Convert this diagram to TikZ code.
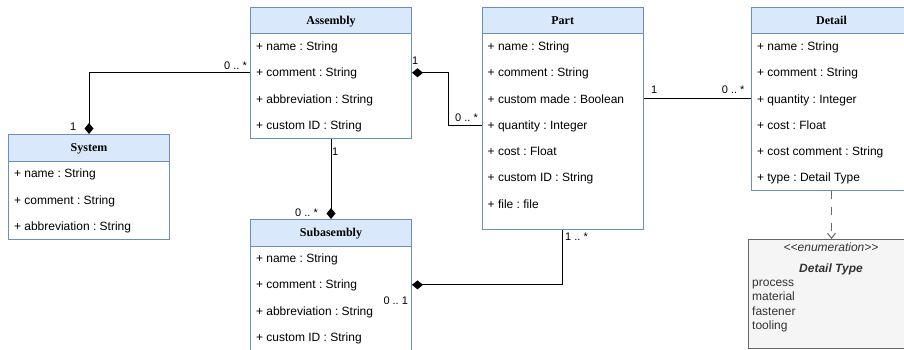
\documentclass[tikz,border=0pt]{standalone}
\usepackage{fontspec}
\setmainfont{Liberation Sans}
\newfontfamily\headfont{Liberation Serif}
\usetikzlibrary{arrows.meta}
\definecolor{hdrfill}{HTML}{DAE8FC}
\definecolor{hdrline}{HTML}{6C8EBF}
\definecolor{enumfill}{HTML}{F5F5F5}
\definecolor{enumline}{HTML}{666666}
\definecolor{enumtext}{HTML}{333333}
\begin{document}
\frenchspacing
\begin{tikzpicture}[x=1pt,y=-1pt,
  classbox/.style={draw=hdrline, line width=1pt, fill=white, anchor=north west,
    inner sep=0pt, minimum width=161pt},
  classhead/.style={draw=hdrline, line width=1pt, fill=hdrfill, anchor=north,
    inner sep=0pt, minimum width=161pt, minimum height=26.5pt,
    font=\headfont\bfseries\fontsize{12}{14}\selectfont, text height=8pt, text depth=0pt},
  attr/.style={anchor=west, inner sep=0pt, font=\fontsize{12}{14}\selectfont,
    text height=8pt, text depth=0pt},
  mult/.style={anchor=base west, inner sep=0pt, font=\fontsize{11}{13}\selectfont},
  enumline/.style={anchor=base west, inner sep=0pt, text=enumtext,
    font=\fontsize{12}{14}\selectfont},
  comp/.style={line width=1pt, {Diamond[length=11pt,width=9pt]}-},
  dep/.style={line width=1pt, draw=enumline, dash pattern=on 8pt off 8pt,
    -{Straight Barb[length=5pt,width=8pt]}},
]
\useasboundingbox (0,0) rectangle (904,350);
\clip (0,0) rectangle (904,350);

% ---- Assembly
\node[classbox, minimum height=131pt] (asm) at (250,7) {};
\node[classhead] (asmh) at (asm.north) {Assembly};
\foreach \t [count=\i] in {{+ name : String},{+ comment : String},
    {+ abbreviation : String},{+ custom ID : String}}
  \node[attr] (asm\i) at (255.8,{46.5+(\i-1)*26.25}) {\t};

% ---- System
\node[classbox, minimum height=105.3pt] (sys) at (8,134) {};
\node[classhead] (sysh) at (sys.north) {System};
\foreach \t [count=\i] in {{+ name : String},{+ comment : String},
    {+ abbreviation : String}}
  \node[attr] (sys\i) at (13.8,{173.9+(\i-1)*26.25}) {\t};

% ---- Part
\node[classbox, minimum height=222pt] (part) at (481.7,7) {};
\node[classhead] (parth) at (part.north) {Part};
\foreach \t [count=\i] in {{+ name : String},{+ comment : String},
    {+ custom made : Boolean},{+ quantity : Integer},{+ cost : Float},
    {+ custom ID : String},{+ file : file}}
  \node[attr] (part\i) at (487.5,{46.5+(\i-1)*26.25}) {\t};

% ---- Detail
\node[classbox, minimum width=160pt, minimum height=183pt] (det) at (751,7) {};
\node[classhead, minimum width=160pt] (deth) at (det.north) {Detail};
\foreach \t [count=\i] in {{+ name : String},{+ comment : String},
    {+ quantity : Integer},{+ cost : Float},{+ cost comment : String},
    {+ type : Detail Type}}
  \node[attr] (det\i) at (756.8,{46.5+(\i-1)*26.25}) {\t};

% ---- Subasembly
\node[classbox, minimum height=140pt] (sub) at (250,219) {};
\node[classhead] (subh) at (sub.north) {Subasembly};
\foreach \t [count=\i] in {{+ name : String},{+ comment : String},
    {+ abbreviation : String},{+ custom ID : String}}
  \node[attr] (sub\i) at (255.8,{258.6+(\i-1)*26.25}) {\t};

% ---- Detail Type enumeration
\node[draw=enumline, line width=1pt, fill=enumfill, anchor=north west,
  inner sep=0pt, minimum width=166pt, minimum height=109pt] (enum) at (748,239) {};
\node[anchor=base, inner sep=0pt, text=enumtext, font=\itshape\fontsize{12}{14}\selectfont]
  (enumst) at (831,251.4) {<\kern0pt<enumeration>\kern0pt>};
\node[anchor=base, inner sep=0pt, text=enumtext,
  font=\bfseries\itshape\fontsize{12}{14}\selectfont]
  (enumname) at (831,272.6) {Detail Type};
\node[enumline] (ev1) at (752,286.4) {process};
\node[enumline] (ev2) at (752,300.7) {material};
\node[enumline] (ev3) at (752,315.0) {fastener};
\node[enumline] (ev4) at (752,329.3) {tooling};

% ---- associations
\draw[comp] (sys.north) |- (asm.west |- asm2);
\draw[comp] (asm.east |- asm2) -- ++(36,0) |- (part.west |- part4);
\draw[comp] (sub.north) -- (asm.south);
\draw[line width=1pt] (part.east |- part3) -- (det.west |- part3);
\draw[comp] (sub.east |- sub2) -| (part.south);
\draw[dep] (det.south) -- (enum.north);

% ---- multiplicities
\node[mult] (m1) at (224,70) {0 .. *};
\node[mult] (m2) at (69.8,130) {1};
\node[mult] (m3) at (411.8,64.5) {1};
\node[mult] (m4) at (455,121.5) {0 .. *};
\node[mult] (m5) at (331.8,155.5) {1};
\node[mult] (m6) at (295,216) {0 .. *};
\node[mult] (m7) at (651,93.3) {1};
\node[mult] (m8) at (721.7,93.3) {0 .. *};
\node[mult] (m9) at (565,240) {1 .. *};
\node[mult] (m10) at (383.3,304) {0 .. 1};
\end{tikzpicture}
\end{document}
